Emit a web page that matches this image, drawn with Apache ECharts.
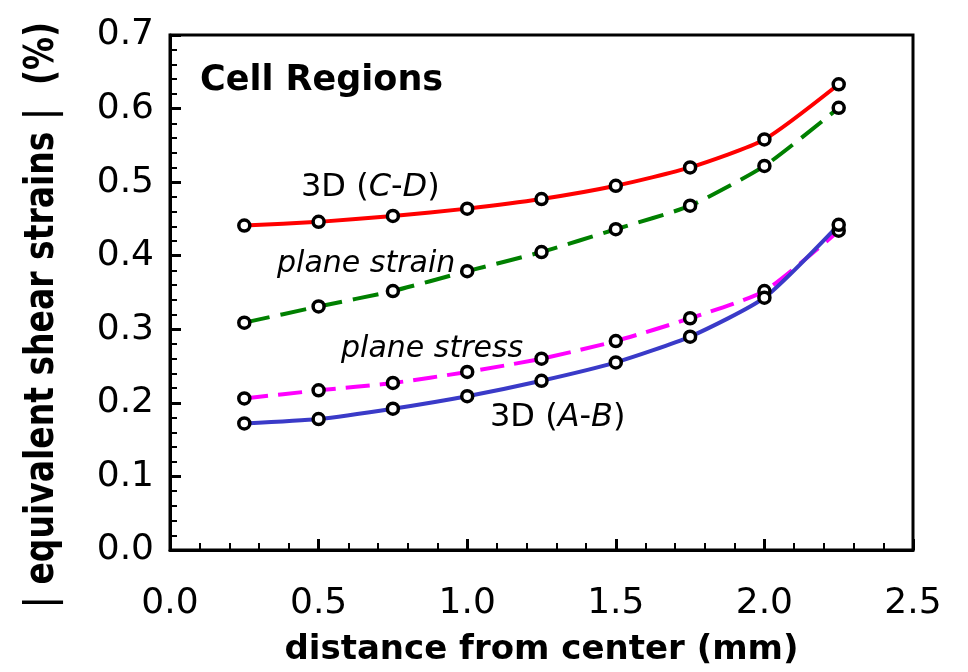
<!DOCTYPE html>
<html>
<head>
<meta charset="utf-8">
<script src="https://cdn.jsdelivr.net/npm/echarts@6/dist/echarts.min.js"></script>
<style>
  html, body { margin: 0; padding: 0; background: #fff; }
  #chart { width: 968px; height: 672px; }
</style>
</head>
<body>
<div id="chart"></div>
<script>
// Radial distance of each sample point (mm)
const distance = [0.25, 0.5, 0.75, 1.0, 1.25, 1.5, 1.75, 2.0, 2.25];

// Equivalent shear strain magnitudes (%)
const strain3dCD        = [0.441, 0.446, 0.454, 0.464, 0.477, 0.495, 0.520, 0.558, 0.633];
const strainPlaneStrain = [0.309, 0.331, 0.352, 0.379, 0.405, 0.436, 0.468, 0.522, 0.601];
const strainPlaneStress = [0.206, 0.217, 0.227, 0.242, 0.260, 0.284, 0.315, 0.352, 0.434];
const strain3dAB        = [0.172, 0.178, 0.192, 0.209, 0.230, 0.255, 0.290, 0.343, 0.442];

// Axis tick labels
const xTickLabels = ['0.0', '0.5', '1.0', '1.5', '2.0', '2.5'];
const yTickLabels = ['0.0', '0.1', '0.2', '0.3', '0.4', '0.5', '0.6', '0.7'];

const FONT = 'DejaVu Sans';

function pairs(ys) {
  return distance.map((x, i) => [x, ys[i]]);
}

function curve(name, ys, color, dash) {
  return {
    name: name,
    type: 'line',
    data: pairs(ys),
    smooth: 0.2,
    symbol: 'circle',
    symbolSize: 11,
    itemStyle: { color: '#fff', borderColor: '#000', borderWidth: 3.5 },
    lineStyle: { color: color, width: 4, type: dash },
    emphasis: { disabled: true },
    animation: false
  };
}

const chart = echarts.init(document.getElementById('chart'), null, { renderer: 'canvas' });

chart.setOption({
  backgroundColor: '#fff',
  animation: false,
  grid: {
    left: 170, right: 55, top: 35, bottom: 119,
    show: true, borderColor: '#000', borderWidth: 3,
    backgroundColor: 'transparent'
  },
  xAxis: {
    type: 'value',
    min: 0, max: 2.5, interval: 0.5,
    name: 'distance from center (mm)',
    nameLocation: 'middle',
    nameGap: 83,
    nameTextStyle: { fontFamily: FONT, fontWeight: 'bold', fontSize: 34, color: '#000' },
    axisLine: { show: true, lineStyle: { color: '#000', width: 3 } },
    axisTick: { show: true, inside: true, length: 11, lineStyle: { color: '#000', width: 3 } },
    minorTick: { show: true, splitNumber: 5, length: 7, lineStyle: { color: '#000', width: 2 } },
    splitLine: { show: false },
    axisLabel: {
      margin: 36,
      fontFamily: FONT, fontSize: 36, color: '#000',
      formatter: v => xTickLabels[Math.round(v / 0.5)]
    }
  },
  yAxis: {
    type: 'value',
    min: 0, max: 0.7, interval: 0.1,
    axisLine: { show: true, lineStyle: { color: '#000', width: 3 } },
    axisTick: { show: true, inside: true, length: 11, lineStyle: { color: '#000', width: 3 } },
    minorTick: { show: true, splitNumber: 5, length: 7, lineStyle: { color: '#000', width: 2 } },
    splitLine: { show: false },
    axisLabel: {
      margin: 16,
      fontFamily: FONT, fontSize: 36, color: '#000',
      formatter: v => yTickLabels[Math.round(v / 0.1)]
    }
  },
  series: [
    curve('3D (C-D)', strain3dCD, '#ff0000', 'solid'),
    curve('plane strain', strainPlaneStrain, '#008000', [26, 11]),
    curve('plane stress', strainPlaneStress, '#ff00ff', [24, 10]),
    curve('3D (A-B)', strain3dAB, '#3a3ac8', 'solid')
  ],
  graphic: [
    {
      // vertical axis title, thickened across its baseline
      type: 'text', x: 42, y: 315, rotation: Math.PI / 2, scaleY: 1.25, z: 10,
      style: {
        text: '| equivalent shear strains |  (%)', fontFamily: FONT, fontWeight: 'bold',
        fontSize: 33, fill: '#000', align: 'center', verticalAlign: 'middle'
      }
    },
    {
      type: 'text', left: 200, top: 63, z: 10,
      style: { text: 'Cell Regions', fontFamily: FONT, fontWeight: 'bold', fontSize: 35, fill: '#000' }
    },
    {
      type: 'text', left: 301, top: 172, z: 10,
      style: {
        text: '3D ({i|C}-{i|D})', fontFamily: FONT, fontSize: 32, fill: '#000',
        rich: { i: { fontFamily: FONT, fontSize: 32, fontStyle: 'italic', fill: '#000' } }
      }
    },
    {
      type: 'text', left: 277, top: 249, z: 10,
      style: { text: 'plane strain', fontFamily: FONT, fontStyle: 'italic', fontSize: 30, fill: '#000' }
    },
    {
      type: 'text', left: 341, top: 334, z: 10,
      style: { text: 'plane stress', fontFamily: FONT, fontStyle: 'italic', fontSize: 30, fill: '#000' }
    },
    {
      type: 'text', left: 490, top: 402, z: 10,
      style: {
        text: '3D ({i|A}-{i|B})', fontFamily: FONT, fontSize: 32, fill: '#000',
        rich: { i: { fontFamily: FONT, fontSize: 32, fontStyle: 'italic', fill: '#000' } }
      }
    }
  ]
});
</script>
</body>
</html>
